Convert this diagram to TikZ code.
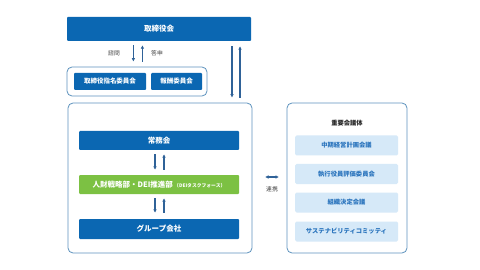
\documentclass[tikz,border=0pt]{standalone}
\usepackage{fontspec}
\setmainfont{Noto Sans CJK JP}
\usetikzlibrary{calc, arrows.meta}
\definecolor{mainblue}{HTML}{0B67B2}
\definecolor{framecol}{HTML}{5E93BE}
\definecolor{paleblue}{HTML}{D6E9F8}
\definecolor{textblue}{HTML}{2A74BD}
\definecolor{deigreen}{HTML}{7CC143}
\definecolor{arrowcol}{HTML}{2F6298}
\definecolor{labelgray}{HTML}{444444}
\begin{document}
\begin{tikzpicture}[x=1pt, y=-1pt, >={Latex[length=3.5pt,width=3.6pt]},
    bluebox/.style={fill=mainblue, text=white, font=\bfseries\fontsize{7.5}{9}\selectfont,
        rounded corners=1pt, inner sep=0pt},
    smallbox/.style={bluebox, font=\bfseries\fontsize{6.5}{8}\selectfont},
    palebox/.style={fill=paleblue, text=textblue, font=\bfseries\fontsize{6.3}{8}\selectfont,
        rounded corners=1.5pt, inner sep=0pt, minimum width=103pt, minimum height=20pt},
    framebox/.style={draw=framecol, line width=0.8pt, rounded corners=5pt, inner sep=0pt},
    arr/.style={->, color=arrowcol, line width=1.2pt},
    lbl/.style={text=labelgray, font=\fontsize{5.8}{7}\selectfont, inner sep=0pt}]
    % Bildfläche
    \useasboundingbox[fill=white] (0,0) rectangle (480,270);

    % 1. Board and committees
    \node[bluebox, minimum width=184pt, minimum height=24pt] (board) at (159,29) {取締役会};
    \node[framebox, minimum width=140pt, minimum height=29pt] (cmt) at (137,81.5) {};
    \node[smallbox, minimum width=72pt, minimum height=17pt] (nomi) at (110,81.5) {取締役指名委員会};
    \node[smallbox, minimum width=51pt, minimum height=17pt] (remu) at (176.5,81.5) {報酬委員会};

    % Consult / report
    \node[lbl] (consult) at (114,53) {諮問};
    \node[lbl] (report) at (157,53) {答申};
    \draw[arr] ($(board.south)+(-25.6,4)$) -- ($(cmt.north)+(-3.6,-5)$);
    \draw[arr] ($(cmt.north)+(5.4,-5)$) -- ($(board.south)+(-16.6,4)$);

    % 2. Executive side
    \node[framebox, minimum width=184pt, minimum height=150pt] (exec) at (160,178) {};
    \node[bluebox, minimum width=160pt, minimum height=19pt] (jomu) at (159,140.5) {常務会};
    \node[bluebox, fill=deigreen, minimum width=160pt, minimum height=19pt] (dei) at (159,184.5)
        {人財戦略部・DEI推進部\,{\fontsize{4.8}{6}\selectfont（DEIタスクフォース）}};
    \node[bluebox, minimum width=160pt, minimum height=20pt] (group) at (159,229) {グループ会社};

    % Board <-> executive
    \draw[arr] ([xshift=73pt,yshift=-5pt]board.south) -- ([xshift=73pt,yshift=5pt]board.south |- exec.north);
    \draw[arr] ([xshift=81pt,yshift=5pt]board.south |- exec.north) -- ([xshift=81pt,yshift=-5pt]board.south);

    % Inner arrows
    \draw[arr] ([xshift=-4pt,yshift=-4pt]jomu.south) -- ([xshift=-4pt,yshift=5pt]jomu.south |- dei.north);
    \draw[arr] ([xshift=5pt,yshift=5pt]jomu.south |- dei.north) -- ([xshift=5pt,yshift=-4pt]jomu.south);
    \draw[arr] ([xshift=-4pt,yshift=-4pt]dei.south) -- ([xshift=-4pt,yshift=6pt]dei.south |- group.north);
    \draw[arr] ([xshift=5pt,yshift=6pt]dei.south |- group.north) -- ([xshift=5pt,yshift=-4pt]dei.south);

    % 3. Important meeting bodies
    \node[framebox, minimum width=120pt, minimum height=150pt] (bodies) at (347,178) {};
    \node[text=black!85, font=\bfseries\fontsize{6.3}{8}\selectfont, inner sep=0pt] (title) at (347,123) {重要会議体};
    \node[palebox] (plan) at (346.5,145.5) {中期経営計画会議};
    \node[palebox] (eval) at (346.5,174) {執行役員評価委員会};
    \node[palebox] (org) at (346.5,202.5) {組織決定会議};
    \node[palebox] (sust) at (346.5,231.5) {サステナビリティコミッティ};

    % Cooperation
    \coordinate (coopL) at (265,177);
    \coordinate (coopR) at (279,177);
    \draw[arr, <->] (coopL) -- (coopR);
    \node[lbl] (coop) at (272,189) {連携};
\end{tikzpicture}
\end{document}
